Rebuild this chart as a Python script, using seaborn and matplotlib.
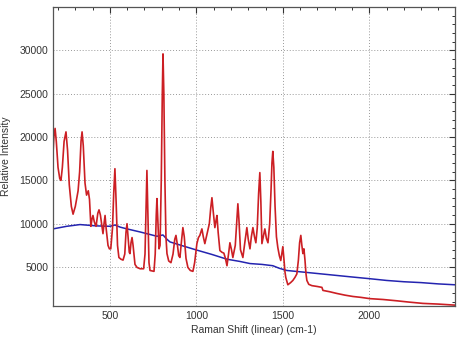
import numpy as np
import pandas as pd
import matplotlib
matplotlib.use("Agg")
import matplotlib.pyplot as plt
from matplotlib.ticker import MultipleLocator
import seaborn as sns

red_x = [171, 176, 183, 190, 200, 210, 217, 225, 235, 246, 255, 265, 277, 287, 300, 316, 325, 333, 339, 346,
         356, 365, 375, 382, 390, 396, 402, 410, 420, 430, 437, 445, 452, 460, 466, 472, 478, 489, 497, 505,
         515, 522, 529, 536, 544, 552, 564, 576, 586, 593, 599, 605, 612, 616, 622, 628, 634, 645, 657, 675,
         695, 703, 709, 714, 720, 726, 732, 755, 762, 768, 772, 777, 784, 790, 797, 803, 807, 812, 818, 824,
         830, 840, 853, 865, 875, 882, 890, 898, 905, 913, 922, 930, 940, 951, 965, 980, 990, 1003, 1012, 1020,
         1032, 1040, 1049, 1058, 1066, 1075, 1083, 1090, 1097, 1107, 1113, 1119, 1126, 1136, 1148, 1159, 1168, 1177, 1186, 1194,
         1203, 1211, 1225, 1234, 1240, 1246, 1255, 1269, 1280, 1292, 1300, 1310, 1318, 1327, 1336, 1344, 1352, 1360, 1367, 1373,
         1379, 1387, 1396, 1405, 1414, 1424, 1432, 1437, 1442, 1448, 1455, 1463, 1471, 1480, 1488, 1494, 1500, 1506, 1512, 1517,
         1529, 1545, 1558, 1570, 1581, 1590, 1597, 1604, 1610, 1616, 1622, 1628, 1634, 1639, 1650, 1668, 1700, 1726, 1732, 1770,
         1812, 1860, 1905, 1950, 2003, 2080, 2159, 2230, 2310, 2400, 2460, 2495]
red_y = [18100, 20000, 21000, 19500, 16500, 15200, 15000, 16500, 19500, 20600, 18500, 14500, 12000, 11100, 12000, 13800, 16000, 19500, 20600, 19000,
         14700, 13300, 13800, 12800, 9700, 10500, 10950, 10200, 9700, 11200, 11600, 11000, 10000, 8850, 10000, 10950, 9500, 7500, 7100, 7100,
         9500, 13500, 16350, 12500, 7500, 6100, 5900, 5800, 6500, 9000, 10000, 8500, 6700, 6550, 7800, 8400, 7500, 5300, 4950, 4800,
         4800, 6500, 12000, 16150, 11000, 5500, 4600, 4500, 6500, 11000, 12900, 10500, 7100, 7500, 15000, 25000, 29600, 25000, 15000, 8500,
         6550, 5700, 5500, 6500, 8200, 8650, 7600, 6300, 6100, 7800, 9550, 8500, 6000, 4950, 4600, 4500, 5500, 7700, 8400, 8650,
         9400, 8500, 7700, 8500, 9200, 10000, 11800, 13000, 11500, 9550, 10300, 10950, 9000, 6900, 6700, 6600, 6000, 5150, 6500, 7800,
         7000, 6100, 7500, 10500, 12300, 10500, 7000, 6100, 7800, 9550, 8200, 7100, 8500, 9550, 8500, 7800, 9500, 13500, 15900, 12500,
         7700, 8500, 9400, 8300, 7800, 10000, 14000, 17000, 18350, 16500, 12000, 8500, 7250, 6300, 5750, 6500, 7350, 6000, 4500, 3800,
         2950, 3200, 3450, 3800, 4200, 5800, 7800, 8650, 7500, 6550, 7100, 5800, 4200, 3450, 3000, 2850, 2750, 2650, 2300, 2150,
         1950, 1750, 1600, 1500, 1350, 1250, 1100, 950, 800, 720, 650, 600]

blue_x = [171, 250, 327, 420, 500, 529, 560, 599, 674, 772, 807, 830, 847, 920, 1003, 1090, 1177, 1250, 1310, 1380,
          1442, 1480, 1523, 1600, 1700, 1800, 1900, 2003, 2100, 2200, 2300, 2400, 2495]
blue_y = [9400, 9700, 9900, 9750, 9700, 9850, 9600, 9400, 9050, 8550, 8700, 8200, 7900, 7450, 6950, 6450, 5900, 5650, 5400, 5300,
          5150, 4850, 4600, 4450, 4250, 4050, 3850, 3650, 3450, 3300, 3200, 3050, 2950]

x_ticks = [500, 1000, 1500, 2000]
y_ticks = [5000, 10000, 15000, 20000, 25000, 30000]

sns.set_style("white")
plt.rcParams['font.family'] = ['Liberation Sans', 'DejaVu Sans']

fig = plt.figure(figsize=(4.63, 3.40), dpi=100)
ax = fig.add_axes([0.1145, 0.10, 0.868, 0.879])

red_df = pd.DataFrame({"x": red_x, "y": red_y})
blue_df = pd.DataFrame({"x": blue_x, "y": blue_y})
sns.lineplot(data=blue_df, x="x", y="y", ax=ax, color="#2424b0", lw=1.1, sort=False)
sns.lineplot(data=red_df, x="x", y="y", ax=ax, color="#cc1f24", lw=1.2, sort=False)

ax.set_xlim(171, 2495)
ax.set_ylim(500, 35000)
ax.set_xticks(x_ticks)
ax.set_yticks(y_ticks)
ax.xaxis.set_minor_locator(MultipleLocator(100))
ax.yaxis.set_minor_locator(MultipleLocator(1000))
ax.tick_params(which='both', direction='in', top=True, right=True, labelsize=7.5, colors='#333333')
ax.tick_params(which='major', length=4, width=0.8)
ax.tick_params(which='minor', length=2.5, width=0.7)
ax.grid(True, which='major', linestyle=(0, (1, 2)), color='#999999', linewidth=0.7)
for s in ax.spines.values():
    s.set_color('#555555')
    s.set_linewidth(0.9)
ax.set_xlabel("Raman Shift (linear) (cm-1)", fontsize=7.5, color='#333333', labelpad=3)
ax.set_ylabel("Relative Intensity", fontsize=7.5, color='#333333', labelpad=6)

fig.savefig("out.png", dpi=100)
